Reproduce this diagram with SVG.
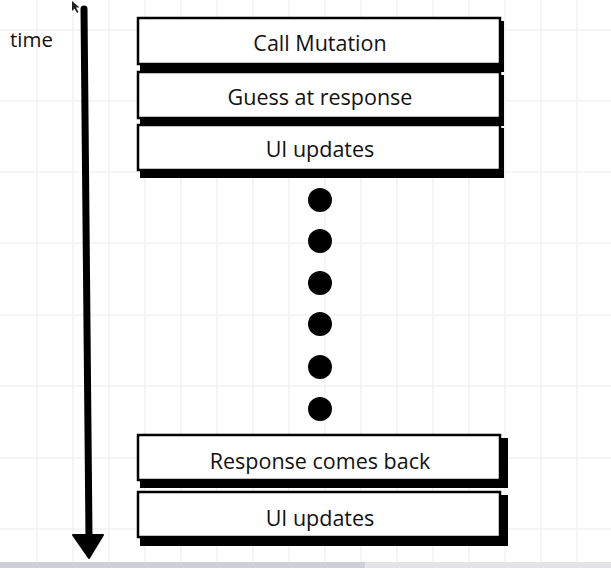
<svg xmlns="http://www.w3.org/2000/svg" width="611" height="568" viewBox="0 0 611 568">
<style>
.grid line{stroke:#f2f2f2;stroke-width:1.5}
.box{fill:#fff;stroke:#000;stroke-width:2.5}
.shadow{fill:#000}
.lbl{font-family:"Open Sans","Noto Sans",sans-serif;font-size:21.5px;fill:#111;text-anchor:middle}
.dot{fill:#000}
</style>
<rect width="611" height="568" fill="#fff"/>
<g class="grid">
<line x1="37" y1="0" x2="37" y2="562"/><line x1="73" y1="0" x2="73" y2="562"/><line x1="109" y1="0" x2="109" y2="562"/><line x1="145" y1="0" x2="145" y2="562"/><line x1="181" y1="0" x2="181" y2="562"/><line x1="217" y1="0" x2="217" y2="562"/><line x1="253" y1="0" x2="253" y2="562"/><line x1="289" y1="0" x2="289" y2="562"/><line x1="325" y1="0" x2="325" y2="562"/><line x1="361" y1="0" x2="361" y2="562"/><line x1="397" y1="0" x2="397" y2="562"/><line x1="433" y1="0" x2="433" y2="562"/><line x1="469" y1="0" x2="469" y2="562"/><line x1="505" y1="0" x2="505" y2="562"/><line x1="541" y1="0" x2="541" y2="562"/><line x1="577" y1="0" x2="577" y2="562"/>
<line x1="0" y1="30" x2="611" y2="30"/><line x1="0" y1="101" x2="611" y2="101"/><line x1="0" y1="172" x2="611" y2="172"/><line x1="0" y1="243" x2="611" y2="243"/><line x1="0" y1="315" x2="611" y2="315"/><line x1="0" y1="386" x2="611" y2="386"/><line x1="0" y1="458" x2="611" y2="458"/><line x1="0" y1="529" x2="611" y2="529"/>
</g>
<rect x="0" y="562" width="611" height="6" fill="#e4e4e8"/>
<rect x="0" y="562" width="365" height="6" fill="#cfcfd6"/>
<text x="10" y="47" font-family="'Open Sans','Noto Sans',sans-serif" font-size="20.5" fill="#111">time</text>
<path d="M72 1 L72 11 L74.5 8.5 L77 13 L78.5 12 L76 7.5 L79.5 7.5 Z" fill="#222"/>
<g id="connectors">
<line x1="84" y1="9" x2="89" y2="538" stroke="#000" stroke-width="7" stroke-linecap="round"/>
<path d="M73 535 L103 535 L89 558 Z" fill="#000" stroke="#000" stroke-width="2" stroke-linejoin="round"/>
</g>
<g id="call-mutation">
<rect class="shadow" x="140" y="21" width="364" height="51"/>
<rect class="box" x="138" y="18" width="362" height="46"/>
<text class="lbl" x="320" y="51">Call Mutation</text>
</g>
<g id="guess">
<rect class="shadow" x="140" y="75" width="364" height="51"/>
<rect class="box" x="138" y="72" width="362" height="46"/>
<text class="lbl" x="320" y="105">Guess at response</text>
</g>
<g id="ui-updates-1">
<rect class="shadow" x="140" y="128" width="364" height="50"/>
<rect class="box" x="138" y="125" width="362" height="45"/>
<text class="lbl" x="320" y="157">UI updates</text>
</g>
<g id="dots">
<circle class="dot" cx="320" cy="200" r="12"/>
<circle class="dot" cx="320" cy="241" r="12"/>
<circle class="dot" cx="320" cy="283" r="12"/>
<circle class="dot" cx="320" cy="324" r="12"/>
<circle class="dot" cx="320" cy="367" r="12"/>
<circle class="dot" cx="320" cy="409" r="12"/>
</g>
<g id="response">
<rect class="shadow" x="140" y="438" width="368" height="50"/>
<rect class="box" x="138" y="435" width="362" height="45"/>
<text class="lbl" x="320" y="469">Response comes back</text>
</g>
<g id="ui-updates-2">
<rect class="shadow" x="140" y="495" width="368" height="51"/>
<rect class="box" x="138" y="492" width="362" height="45"/>
<text class="lbl" x="320" y="526">UI updates</text>
</g>
</svg>
